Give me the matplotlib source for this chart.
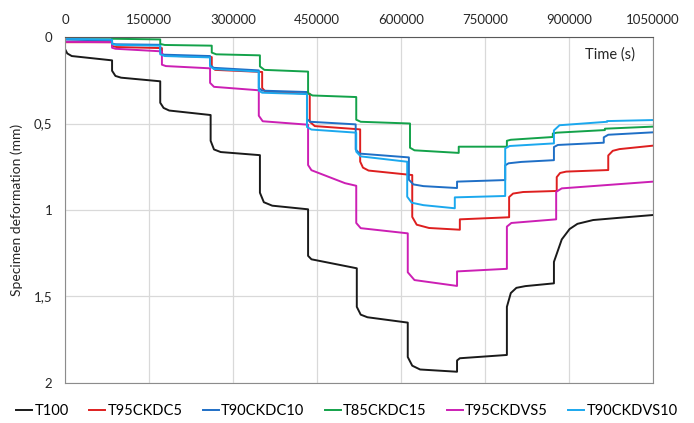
import matplotlib
matplotlib.use("Agg")
import matplotlib.pyplot as plt

# time (s) / deformation (mm), steps drawn as repeated times
t100_t = [0, 4000, 12000, 84000,
          84000, 90000, 100000, 170000,
          170000, 176000, 186000, 260000,
          260000, 266000, 278000, 348000,
          348000, 355000, 370000, 434000,
          434000, 440000, 521000,
          521000, 528000, 540000, 612000,
          612000, 620000, 634000, 700000,
          700000, 705000, 789000,
          789000, 796000, 806000, 822000, 873000,
          873000, 887000, 901000, 915000, 943000, 990000, 1050000]
t100_v = [0.07, 0.095, 0.11, 0.135,
          0.195, 0.225, 0.235, 0.256,
          0.38, 0.41, 0.425, 0.451,
          0.6, 0.65, 0.665, 0.683,
          0.9, 0.955, 0.975, 0.996,
          1.265, 1.285, 1.337,
          1.56, 1.605, 1.62, 1.651,
          1.85, 1.9, 1.922, 1.935,
          1.87, 1.857, 1.838,
          1.56, 1.48, 1.45, 1.44, 1.424,
          1.3, 1.17, 1.11, 1.08, 1.058, 1.045, 1.029]

t95ckdc5_t = [0, 84000,
              84000, 92000, 173000,
              173000, 180000, 262000,
              262000, 268000, 352000,
              352000, 358000, 437000,
              437000, 446000, 527000,
              527000, 532000, 542000, 620000,
              620000, 628000, 650000, 705000,
              705000, 793000,
              793000, 800000, 818000, 878000,
              878000, 884000, 895000, 970000,
              970000, 978000, 990000, 1050000]
t95ckdc5_v = [0.03, 0.03,
              0.052, 0.058, 0.064,
              0.1, 0.108, 0.116,
              0.17, 0.19, 0.202,
              0.295, 0.316, 0.328,
              0.49, 0.515, 0.534,
              0.72, 0.755, 0.772, 0.798,
              1.04, 1.085, 1.104, 1.114,
              1.054, 1.042,
              0.925, 0.905, 0.896, 0.89,
              0.81, 0.786, 0.778, 0.769,
              0.685, 0.658, 0.648, 0.628]

t90ckdc10_t = [0, 84000,
               84000, 90000, 170000,
               170000, 176000, 259000,
               259000, 265000, 346000,
               346000, 352000, 432000,
               432000, 438000, 519000,
               519000, 526000, 614000,
               614000, 622000, 640000, 700000,
               700000, 786000,
               786000, 792000, 815000, 873000,
               873000, 880000, 962000,
               962000, 970000, 1050000]
t90ckdc10_v = [0.015, 0.02,
               0.038, 0.042, 0.045,
               0.092, 0.102, 0.11,
               0.162, 0.178, 0.193,
               0.295, 0.31, 0.318,
               0.475, 0.49, 0.505,
               0.65, 0.674, 0.696,
               0.825, 0.852, 0.862, 0.873,
               0.836, 0.827,
               0.742, 0.73, 0.722, 0.712,
               0.636, 0.624, 0.611,
               0.58, 0.565, 0.551]

t85ckdc15_t = [0, 84000,
               84000, 170000,
               170000, 178000, 262000,
               262000, 270000, 348000,
               348000, 356000, 434000,
               434000, 442000, 520000,
               520000, 528000, 616000,
               616000, 624000, 703000,
               703000, 789000,
               789000, 796000, 871000,
               871000, 878000, 964000,
               964000, 1050000]
t85ckdc15_v = [0.004, 0.004,
               0.01, 0.014,
               0.04, 0.046, 0.05,
               0.09, 0.1, 0.106,
               0.17, 0.19, 0.2,
               0.325, 0.338, 0.347,
               0.478, 0.49, 0.5,
               0.64, 0.655, 0.67,
               0.634, 0.634,
               0.6, 0.594, 0.578,
               0.558, 0.553, 0.538,
               0.53, 0.518]

t95ckdvs5_t = [0, 84000,
               84000, 90000, 173000,
               173000, 180000, 259000,
               259000, 266000, 346000,
               346000, 353000, 434000,
               434000, 440000, 500000, 520000,
               520000, 528000, 612000,
               612000, 624000, 700000,
               700000, 789000,
               789000, 797000, 877000,
               877000, 887000, 1050000]
t95ckdvs5_v = [0.028, 0.03,
               0.062, 0.068, 0.083,
               0.16, 0.168, 0.181,
               0.265, 0.288, 0.308,
               0.455, 0.487, 0.507,
               0.74, 0.77, 0.845, 0.86,
               1.075, 1.105, 1.135,
               1.36, 1.405, 1.439,
               1.355, 1.34,
               1.096, 1.075, 1.054,
               0.895, 0.875, 0.836]

t90ckdvs10_t = [0, 84000,
                84000, 92000, 170000,
                170000, 178000, 259000,
                259000, 266000, 346000,
                346000, 352000, 432000,
                432000, 440000, 520000,
                520000, 528000, 611000,
                611000, 619000, 640000, 696000,
                696000, 786000,
                786000, 794000, 873000,
                873000, 883000, 968000,
                968000, 1050000]
t90ckdvs10_v = [0.01, 0.015,
                0.04, 0.046, 0.05,
                0.1, 0.11, 0.118,
                0.17, 0.185, 0.2,
                0.31, 0.322, 0.33,
                0.52, 0.535, 0.553,
                0.663, 0.69, 0.721,
                0.923, 0.958, 0.972, 0.99,
                0.927, 0.919,
                0.644, 0.63, 0.615,
                0.54, 0.51, 0.49,
                0.486, 0.48]

x_ticks = [0, 150000, 300000, 450000, 600000, 750000, 900000, 1050000]
y_ticks = [0, 0.5, 1, 1.5, 2]
y_tick_labels = ["0", "0,5", "1", "1,5", "2"]

plt.rcParams["font.family"] = ["Lato", "DejaVu Sans"]

series = [
    ("T100", t100_t, t100_v, "#1a1a1a"),
    ("T95CKDC5", t95ckdc5_t, t95ckdc5_v, "#de1f1f"),
    ("T90CKDC10", t90ckdc10_t, t90ckdc10_v, "#1f6fc6"),
    ("T85CKDC15", t85ckdc15_t, t85ckdc15_v, "#13a24a"),
    ("T95CKDVS5", t95ckdvs5_t, t95ckdvs5_v, "#cc1fb4"),
    ("T90CKDVS10", t90ckdvs10_t, t90ckdvs10_v, "#1ba8ee"),
]

fig = plt.figure(figsize=(6.94, 4.23), dpi=100)
ax = fig.add_axes([0.0937, 0.0946, 0.8473, 0.8179])

for label, t, v, color in series:
    ax.plot(t, v, color=color, lw=1.4, label=label)

ax.set_xlim(0, 1050000)
ax.set_ylim(2, 0)
ax.set_xticks(x_ticks)
ax.set_xticklabels([str(x) for x in x_ticks])
ax.set_yticks(y_ticks)
ax.set_yticklabels(y_tick_labels)
ax.xaxis.tick_top()
ax.tick_params(axis="both", length=0, labelsize=9.5, colors="#262626")
ax.tick_params(axis="x", pad=8)
ax.tick_params(axis="y", pad=9)
ax.grid(True, color="#d9d9d9", lw=0.9)
ax.set_axisbelow(True)
for side in ["left", "bottom", "right"]:
    ax.spines[side].set_color("#8c8c8c")
ax.spines["top"].set_color("#595959")

ax.text(0.97, 0.97, "Time (s)", transform=ax.transAxes, ha="right", va="top",
        fontsize=10.5, color="#262626")
ax.set_ylabel("Specimen deformation (mm)", fontsize=10, color="#262626", labelpad=8)

fig.legend(loc="center", bbox_to_anchor=(0.5, 0.028), ncol=6, frameon=False,
           fontsize=10.5, handlelength=1.1, handletextpad=0.15, columnspacing=1.4)

fig.savefig("out.png", dpi=100)
